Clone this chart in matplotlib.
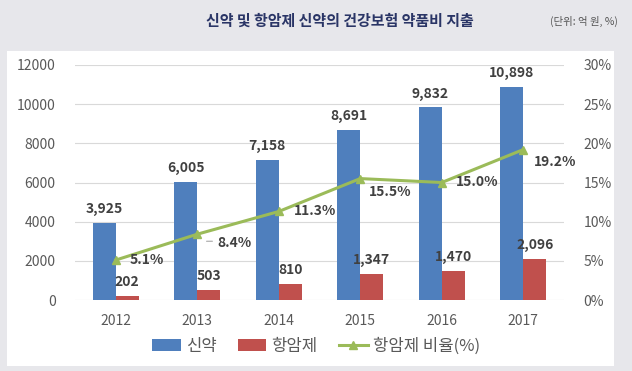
import matplotlib.pyplot as plt
import numpy as np

plt.rcParams['font.family'] = ['Noto Sans CJK KR', 'DejaVu Sans']

years = ['2012', '2013', '2014', '2015', '2016', '2017']
new_drug = [3925, 6005, 7158, 8691, 9832, 10898]
anticancer = [202, 503, 810, 1347, 1470, 2096]
ratio = [5.1, 8.4, 11.3, 15.5, 15.0, 19.2]

# 비율 라벨 위치 (px 단위 오프셋)
ratio_offsets = [(14, 0), (20, -9), (15, 0), (9, -13), (14, 0), (11, -12)]

blue = '#4f7fbd'
red = '#c0504d'
green = '#9bbb59'
label_col = '#404040'
tick_col = '#595959'

fig = plt.figure(figsize=(6.32, 3.71), dpi=100)
fig.patch.set_facecolor('#e7e7eb')

# 흰 패널
panel = plt.Rectangle((7 / 632, 1 - 366 / 371), 607 / 632, 315 / 371,
                      transform=fig.transFigure, facecolor='white', edgecolor='none', zorder=-5)
fig.patches.append(panel)

fig.text(340 / 632, 1 - 21 / 371, '신약 및 항암제 신약의 건강보험 약품비 지출', ha='center', va='center',
         fontsize=10.8, fontweight='bold', color='#2a3566')
fig.text(618 / 632, 1 - 21 / 371, '(단위: 억 원, %)', ha='right', va='center', fontsize=7.5, color='#555555')

ax = fig.add_axes([75 / 632, 1 - 300 / 371, 489 / 632, 235 / 371])
ax.set_facecolor('white')
x = np.arange(len(years))
w = 0.282

b1 = ax.bar(x - w / 2, new_drug, w, color=blue, label='신약', zorder=2)
b2 = ax.bar(x + w / 2, anticancer, w, color=red, label='항암제', zorder=2)

ax.set_xlim(-0.5, len(years) - 0.5)
ax.set_ylim(0, 12000)
ax.set_yticks(range(0, 12001, 2000))
ax.set_xticks(x)
ax.set_xticklabels(years)
ax.grid(axis='y', color='#d9d9d9', linewidth=0.8, zorder=0)
for s in ax.spines.values():
    s.set_visible(False)
ax.tick_params(length=0, colors=tick_col, labelsize=10)
ax.tick_params(axis='y', pad=14)
ax.tick_params(axis='x', pad=10)

for xi, v in zip(x, new_drug):
    ax.annotate(f'{v:,}', (xi - w / 2, v), xytext=(0, 5), textcoords='offset points',
                ha='center', va='bottom', fontsize=10, fontweight='bold', color=label_col)
for xi, v in zip(x, anticancer):
    ax.annotate(f'{v:,}', (xi + w / 2, v), xytext=(0, 5), textcoords='offset points',
                ha='center', va='bottom', fontsize=10, fontweight='bold', color=label_col)

ax2 = ax.twinx()
ax2.set_ylim(0, 30)
ax2.set_yticks(range(0, 31, 5))
ax2.set_yticklabels([f'{t}%' for t in range(0, 31, 5)])
for s in ax2.spines.values():
    s.set_visible(False)
ax2.tick_params(length=0, colors=tick_col, labelsize=10, pad=14)

ln, = ax2.plot(x, ratio, color=green, linewidth=2.2, marker='^', markersize=6,
               label='항암제 비율(%)', zorder=3)

for i, (xi, v) in enumerate(zip(x, ratio)):
    dx, dy = ratio_offsets[i]
    ax2.annotate(f'{v:.1f}%', (xi, v), xytext=(dx * 0.72, dy * 0.72), textcoords='offset points',
                 ha='left', va='center', fontsize=10, fontweight='bold', color=label_col)
# 8.4% 지시선
ax2.annotate('', (x[1] + 0.08, ratio[1] - 0.9), xytext=(x[1] + 0.22, ratio[1] - 0.9),
             arrowprops=dict(arrowstyle='-', color='#a6a6a6', lw=0.8))

fig.legend([b1, b2, ln], ['신약', '항암제', '항암제 비율(%)'], loc='center',
           bbox_to_anchor=(316 / 632, 1 - 346 / 371), ncol=3, frameon=False, fontsize=12,
           labelcolor=tick_col, handlelength=1.7, handleheight=0.7, columnspacing=1.3,
           handletextpad=0.3)

fig.savefig('out.png', dpi=100, facecolor=fig.get_facecolor())
